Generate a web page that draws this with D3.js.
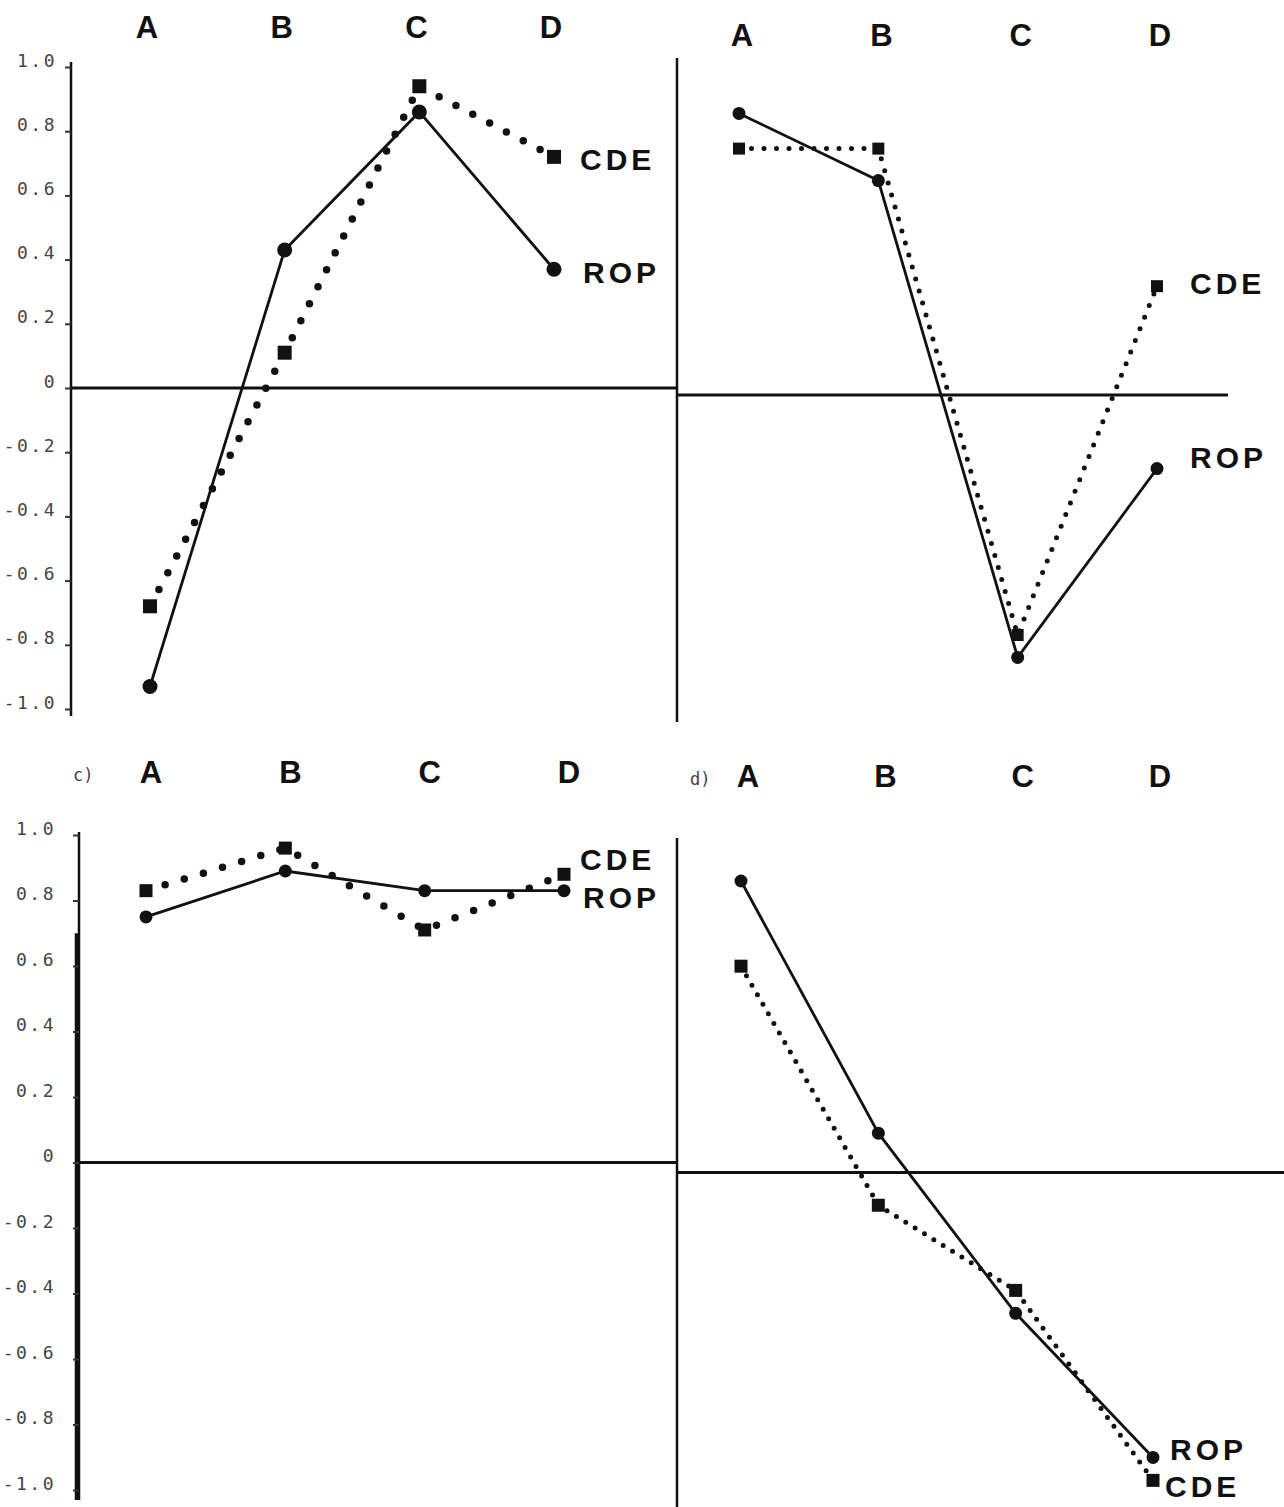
<!DOCTYPE html>
<html>
<head>
<meta charset="utf-8">
<script src="https://cdn.jsdelivr.net/npm/d3@7"></script>
<style>
  html, body { margin: 0; padding: 0; background: #ffffff; }
  svg { display: block; }
</style>
</head>
<body>
<script>
// ---- data ----
const categories = ["A", "B", "C", "D"];
const tickValues = [1.0, 0.8, 0.6, 0.4, 0.2, 0, -0.2, -0.4, -0.6, -0.8, -1.0];
const tickLabels = ["1.0", "0.8", "0.6", "0.4", "0.2", "0", "-0.2", "-0.4", "-0.6", "-0.8", "-1.0"];
const seriesNames = ["ROP", "CDE"];
const panelTags = ["", "", "c)", "d)"];

const ropA = [-0.93, 0.43, 0.86, 0.37];
const cdeA = [-0.68, 0.11, 0.94, 0.72];
const ropB = [0.88, 0.67, -0.82, -0.23];
const cdeB = [0.77, 0.77, -0.75, 0.34];
const ropC = [0.75, 0.89, 0.83, 0.83];
const cdeC = [0.83, 0.96, 0.71, 0.88];
const ropD = [0.89, 0.12, -0.43, -0.87];
const cdeD = [0.63, -0.10, -0.36, -0.94];

// ---- layout (positions/styles only) ----
const W = 1284, H = 1507;
const panels = [
  { rop: ropA, cde: cdeA, x: [150, 554], y: [67, 709], axisX: 71, axisTop: 62, axisBottom: 716,
    zero: [71, 676], headerDx: -3, headerY: 38, tag: panelTags[0], tagX: 0,
    showTicks: true, labelX: 57, dot: { w: 7.5, gap: 19 }, r: 7.5, sq: 14,
    ropLab: [29, 3], cdeLab: [26, 3] },
  { rop: ropB, cde: cdeB, x: [739, 1157], y: [75, 715], axisX: null,
    zero: [677, 1228], headerDx: 3, headerY: 46, tag: panelTags[1], tagX: 0,
    showTicks: false, dot: { w: 5, gap: 12.5 }, r: 6.5, sq: 12,
    ropLab: [33, -11], cdeLab: [33, -3] },
  { rop: ropC, cde: cdeC, x: [146, 564], y: [835, 1490], axisX: 79, axisTop: 832, axisBottom: 1500,
    zero: [79, 678], headerDx: 5, headerY: 783, tag: panelTags[2], tagX: 73,
    showTicks: true, labelX: 56, dot: { w: 7.5, gap: 20 }, r: 6.5, sq: 13,
    ropLab: [19, 7], cdeLab: [16, -15] },
  { rop: ropD, cde: cdeD, x: [741, 1153], y: [845, 1500], axisX: null,
    zero: [678, 1284], headerDx: 7, headerY: 787, tag: panelTags[3], tagX: 690,
    showTicks: false, dot: { w: 5, gap: 11 }, r: 6.5, sq: 13,
    ropLab: [17, -8], cdeLab: [12, 6] }
];

const svg = d3.select("body").append("svg")
  .attr("width", W).attr("height", H)
  .style("font-family", "'Liberation Sans', Arial, sans-serif");

svg.append("rect").attr("width", W).attr("height", H).attr("fill", "#ffffff");

// dividers between left and right panels
svg.append("line").attr("x1", 677).attr("x2", 677).attr("y1", 58).attr("y2", 722)
  .attr("stroke", "#111").attr("stroke-width", 2.5);
svg.append("line").attr("x1", 677).attr("x2", 677).attr("y1", 838).attr("y2", 1507)
  .attr("stroke", "#111").attr("stroke-width", 2.5);

panels.forEach((p, i) => {
  const g = svg.append("g");
  const x = d3.scalePoint().domain(categories).range(p.x);
  const y = d3.scaleLinear().domain([1, -1]).range(p.y);

  // headers
  g.selectAll("text.hdr").data(categories).join("text")
    .attr("class", "hdr")
    .attr("x", d => x(d) + p.headerDx)
    .attr("y", p.headerY)
    .attr("text-anchor", "middle")
    .attr("font-size", 31).attr("font-weight", 900)
    .attr("fill", "#111")
    .text(d => d);

  if (p.tag) {
    g.append("text").attr("x", p.tagX).attr("y", p.headerY - 2)
      .attr("font-family", "'DejaVu Sans Mono', monospace")
      .attr("font-size", 17).attr("fill", "#444")
      .text(p.tag);
  }

  // y-axis
  if (p.axisX !== null) {
    g.append("line").attr("x1", p.axisX).attr("x2", p.axisX)
      .attr("y1", p.axisTop).attr("y2", p.axisBottom)
      .attr("stroke", "#111").attr("stroke-width", 2.5);
    if (i === 2) {
      // heavier lower part of the axis as printed
      g.append("line").attr("x1", p.axisX - 2).attr("x2", p.axisX - 2)
        .attr("y1", y(0.7)).attr("y2", p.axisBottom)
        .attr("stroke", "#111").attr("stroke-width", 4.5);
    }
    const axis = d3.axisLeft(y).tickValues(tickValues).tickSize(6)
      .tickFormat((d, k) => tickLabels[k]);
    const ag = g.append("g").attr("transform", `translate(${p.axisX},0)`).call(axis);
    ag.select(".domain").remove();
    ag.selectAll(".tick line").attr("stroke", "#333").attr("stroke-width", 2);
    ag.selectAll(".tick text")
      .attr("x", p.labelX - p.axisX)
      .attr("dy", "-0.05em")
      .attr("font-family", "'DejaVu Sans Mono', monospace")
      .attr("font-size", 18).attr("letter-spacing", 2.5)
      .attr("fill", "#444");
  }

  // zero line
  g.append("line").attr("x1", p.zero[0]).attr("x2", p.zero[1])
    .attr("y1", y(0)).attr("y2", y(0))
    .attr("stroke", "#111").attr("stroke-width", 2.8);

  const line = d3.line().x((d, k) => x(categories[k])).y(d => y(d));

  // CDE dotted line
  g.append("path").datum(p.cde).attr("d", line)
    .attr("fill", "none").attr("stroke", "#111")
    .attr("stroke-width", p.dot.w).attr("stroke-linecap", "round")
    .attr("stroke-dasharray", `0,${p.dot.gap}`);

  // ROP solid line
  g.append("path").datum(p.rop).attr("d", line)
    .attr("fill", "none").attr("stroke", "#111").attr("stroke-width", 2.8);

  // markers
  g.selectAll("rect.cde").data(p.cde).join("rect")
    .attr("class", "cde")
    .attr("x", (d, k) => x(categories[k]) - p.sq / 2)
    .attr("y", d => y(d) - p.sq / 2)
    .attr("width", p.sq).attr("height", p.sq)
    .attr("fill", "#111");
  g.selectAll("circle.rop").data(p.rop).join("circle")
    .attr("class", "rop")
    .attr("cx", (d, k) => x(categories[k]))
    .attr("cy", d => y(d))
    .attr("r", p.r).attr("fill", "#111");

  // series labels at end of lines
  const last = categories[categories.length - 1];
  [["ROP", p.rop, p.ropLab], ["CDE", p.cde, p.cdeLab]].forEach(([name, vals, off]) => {
    g.append("text")
      .attr("x", x(last) + off[0])
      .attr("y", y(vals[vals.length - 1]) + off[1])
      .attr("dominant-baseline", "central")
      .attr("font-size", 30).attr("font-weight", 700)
      .attr("letter-spacing", 4)
      .attr("fill", "#111")
      .text(name);
  });
});
</script>
</body>
</html>
